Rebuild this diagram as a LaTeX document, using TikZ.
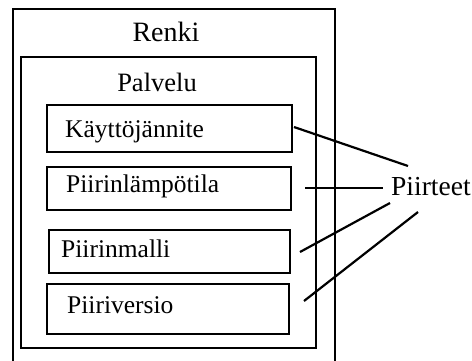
\documentclass[tikz,border=0pt]{standalone}
\usepackage{fontspec}
\setmainfont{Liberation Serif}
\begin{document}
\begin{tikzpicture}[x=1pt,y=-1pt,
  frame/.style={draw=black,line width=2.8pt},
  field/.style={draw=black,line width=2.8pt,minimum width=#1,minimum height=45pt,inner sep=0pt},
  fieldtext/.style={anchor=base west,inner sep=0pt,font=\fontsize{25.5}{28}\selectfont},
  title/.style={anchor=base,inner sep=0pt,font=\fontsize{28}{32}\selectfont},
  link/.style={draw=black,line width=2.2pt}]
\useasboundingbox (0,0) rectangle (472,360);
\clip (0,0) rectangle (472,360);
\fill[white] (0,0) rectangle (472,360);
% outer and inner frames
\draw[frame] (13,9) rectangle (335,372);
\draw[frame] (21,57) rectangle (316,348);
\node[title] (renki) at (166,41) {Renki};
\node[title,font=\fontsize{26.5}{30}\selectfont] (palvelu) at (157,91) {Palvelu};
% fields
\node[field=245pt,minimum height=47pt] (f1) at (169.5,128.5) {};
\node[field=244pt,minimum height=43pt] (f2) at (169,188.5) {};
\node[field=241pt,minimum height=43pt] (f3) at (169.5,251.5) {};
\node[field=242pt,minimum height=50pt] (f4) at (168,309) {};
\node[fieldtext] (t1) at (65,137) {Käyttöjännite};
\node[fieldtext] (t2) at (66,192) {Piirinlämpötila};
\node[fieldtext] (t3) at (61,257) {Piirinmalli};
\node[fieldtext] (t4) at (67,313) {Piiriversio};
% features label and its links
\node[anchor=base west,inner sep=0pt,font=\fontsize{27.5}{30}\selectfont] (piirteet) at (391,195) {Piirteet};
\coordinate (s1) at (294,127);
\coordinate (s2) at (305,188);
\coordinate (s3) at (300,252);
\coordinate (s4) at (304,301);
\coordinate (e1) at (408,166);
\coordinate (e2) at (383,188);
\coordinate (e3) at (390,203);
\coordinate (e4) at (418,212);
\draw[link] (s1) -- (e1);
\draw[link] (s2) -- (e2);
\draw[link] (s3) -- (e3);
\draw[link] (s4) -- (e4);
\end{tikzpicture}
\end{document}
